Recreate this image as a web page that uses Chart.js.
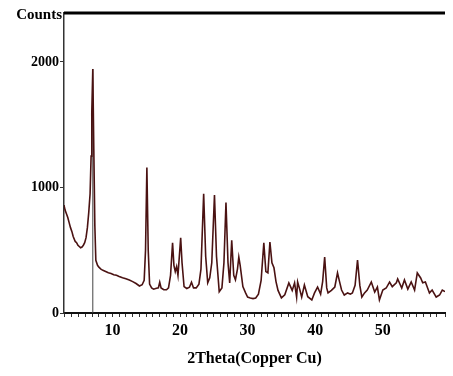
<!DOCTYPE html>
<html><head><meta charset="utf-8">
<script src="https://cdn.jsdelivr.net/npm/chart.js@4/dist/chart.umd.min.js"></script>
<style>html,body{margin:0;padding:0;background:#fff}#wrap{width:453px;height:376px}</style>
</head><body><div id="wrap"><canvas id="c" width="453" height="376"></canvas></div>
<script>
const twoTheta = [2.84,3.0,3.2,3.4,3.6,3.8,4.0,4.2,4.5,4.7,4.9,5.1,5.3,5.5,5.7,5.9,6.1,6.3,6.5,6.7,6.85,6.95,7.1,7.25,7.4,7.55,7.8,8.0,8.3,8.6,9.0,9.4,9.8,10.2,10.6,11.0,11.5,12.0,12.5,13.0,13.5,14.0,14.4,14.7,14.9,15.1,15.3,15.5,15.8,16.1,16.4,16.8,17.0,17.2,17.6,18.0,18.3,18.6,18.9,19.1,19.3,19.5,19.7,19.9,20.1,20.3,20.6,21.0,21.4,21.7,22.0,22.4,22.8,23.1,23.5,23.8,24.1,24.4,24.7,25.1,25.4,25.8,26.2,26.5,26.8,27.1,27.35,27.65,27.95,28.2,28.5,28.7,28.9,29.3,29.7,30.0,30.4,30.8,31.2,31.6,32.0,32.4,32.7,33.0,33.3,33.6,33.9,34.2,34.5,35.0,35.5,36.1,36.6,36.95,37.25,37.4,37.7,38.0,38.4,38.9,39.5,39.9,40.35,40.8,41.1,41.4,41.7,41.9,42.4,42.9,43.3,43.6,43.9,44.3,44.8,45.2,45.5,45.9,46.26,46.6,46.9,47.3,47.7,48.3,48.8,49.2,49.5,50.0,50.5,51.0,51.4,52.0,52.2,52.8,53.2,53.7,54.2,54.7,55.1,55.6,55.9,56.3,56.9,57.3,57.9,58.4,58.8,59.2];
const counts = [860,820,790,760,720,680,650,610,570,560,540,530,520,525,540,560,600,680,800,950,1250,1600,1944,1300,700,420,380,365,350,340,330,320,315,305,300,290,280,272,262,250,235,215,225,260,500,1160,500,230,200,190,195,200,245,200,185,185,200,300,560,380,330,370,300,450,600,400,210,195,205,245,200,200,230,350,950,450,240,280,400,940,450,170,200,400,880,400,240,580,300,265,350,446,380,210,160,127,120,115,120,150,260,560,330,320,566,400,360,250,180,120,145,240,180,240,127,247,190,127,223,130,104,160,207,150,250,446,200,160,180,207,319,250,183,143,160,150,160,220,422,220,127,160,183,247,167,207,104,183,199,247,210,240,271,199,263,190,247,183,319,279,240,247,160,183,127,143,183,170];
const stickTheta = [7.1, 7.1];
const stickCounts = [0, 1944];
const xTickLabels = [10, 20, 30, 40, 50];
const yTickLabels = [0, 1000, 2000];

const serif = '"Liberation Serif", "Times New Roman", serif';
const pattern = twoTheta.map((x, i) => ({x, y: counts[i]}));
const stick = stickTheta.map((x, i) => ({x, y: stickCounts[i]}));

const deco = {
  id: 'deco',
  afterDraw(chart) {
    const ctx = chart.ctx, a = chart.chartArea;
    ctx.save();
    ctx.strokeStyle = '#000';
    ctx.lineWidth = 3;
    ctx.beginPath(); ctx.moveTo(a.left, a.top); ctx.lineTo(a.right, a.top); ctx.stroke();
    ctx.fillStyle = '#000';
    ctx.font = 'bold 15px ' + serif;
    ctx.textAlign = 'right'; ctx.textBaseline = 'middle';
    ctx.fillText('Counts', a.left - 2, a.top + 2);
    ctx.restore();
  }
};

new Chart(document.getElementById('c'), {
  type: 'line',
  data: {
    datasets: [
      {data: pattern, borderColor: '#4a1212', borderWidth: 1.6, pointRadius: 0, tension: 0, fill: false},
      {data: stick, borderColor: '#444', borderWidth: 1, pointRadius: 0, fill: false}
    ]
  },
  options: {
    responsive: false, animation: false,
    layout: {padding: {top: 13, right: 8, left: 0, bottom: 0}},
    plugins: {legend: {display: false}, tooltip: {enabled: false}},
    scales: {
      x: {
        type: 'linear', min: 2.84, max: 59.2,
        afterFit(s) { s.height = 63; },
        border: {color: '#111', width: 2},
        grid: {drawOnChartArea: false, tickLength: 4, color: '#333'},
        ticks: {
          stepSize: 1, autoSkip: false, maxRotation: 0, padding: 4,
          color: '#000', font: {family: serif, size: 16, weight: 'bold'},
          callback: v => xTickLabels.includes(v) ? String(v) : ''
        },
        title: {display: true, text: '2Theta(Copper Cu)', color: '#000',
          font: {family: serif, size: 16, weight: 'bold'}, padding: {top: 10, bottom: 8}}
      },
      y: {
        min: 0, max: 2390,
        afterFit(s) { s.width = 64; },
        border: {color: '#333', width: 1.5},
        grid: {drawOnChartArea: false, tickLength: 4, color: '#333'},
        afterBuildTicks(s) { s.ticks = yTickLabels.map(v => ({value: v})); },
        ticks: {color: '#000', padding: 1, font: {family: serif, size: 14, weight: 'bold'},
          callback: v => String(v)}
      }
    }
  },
  plugins: [deco]
});
</script></body></html>
